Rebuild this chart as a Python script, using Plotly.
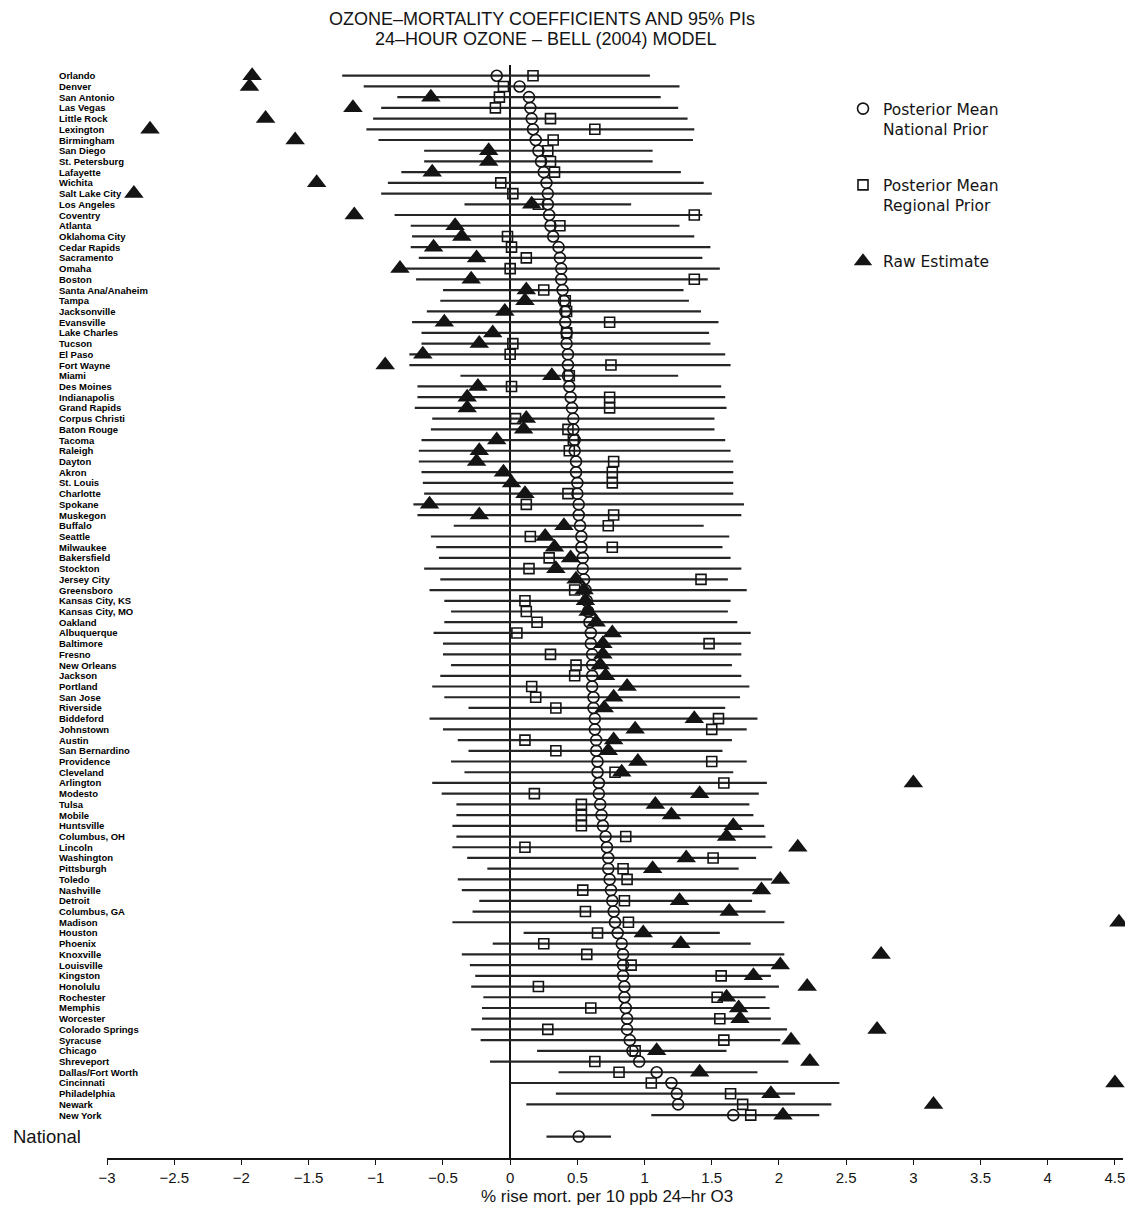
import plotly.graph_objects as go

cities = ["Orlando", "Denver", "San Antonio", "Las Vegas", "Little Rock", "Lexington", "Birmingham",
          "San Diego", "St. Petersburg", "Lafayette", "Wichita", "Salt Lake City", "Los Angeles",
          "Coventry", "Atlanta", "Oklahoma City", "Cedar Rapids", "Sacramento", "Omaha", "Boston",
          "Santa Ana/Anaheim", "Tampa", "Jacksonville", "Evansville", "Lake Charles", "Tucson",
          "El Paso", "Fort Wayne", "Miami", "Des Moines", "Indianapolis", "Grand Rapids",
          "Corpus Christi", "Baton Rouge", "Tacoma", "Raleigh", "Dayton", "Akron", "St. Louis",
          "Charlotte", "Spokane", "Muskegon", "Buffalo", "Seattle", "Milwaukee", "Bakersfield",
          "Stockton", "Jersey City", "Greensboro", "Kansas City, KS", "Kansas City, MO", "Oakland",
          "Albuquerque", "Baltimore", "Fresno", "New Orleans", "Jackson", "Portland", "San Jose",
          "Riverside", "Biddeford", "Johnstown", "Austin", "San Bernardino", "Providence",
          "Cleveland", "Arlington", "Modesto", "Tulsa", "Mobile", "Huntsville", "Columbus, OH",
          "Lincoln", "Washington", "Pittsburgh", "Toledo", "Nashville", "Detroit", "Columbus, GA",
          "Madison", "Houston", "Phoenix", "Knoxville", "Louisville", "Kingston", "Honolulu",
          "Rochester", "Memphis", "Worcester", "Colorado Springs", "Syracuse", "Chicago",
          "Shreveport", "Dallas/Fort Worth", "Cincinnati", "Philadelphia", "Newark", "New York"]

# 95% posterior interval (lower / upper)
pi_lower = [-1.25, -1.09, -0.84, -0.96, -1.02, -1.07, -0.98, -0.64, -0.64, -0.81,
            -0.91, -0.96, -0.34, -0.86, -0.74, -0.73, -0.74, -0.68, -0.78, -0.70,
            -0.50, -0.52, -0.62, -0.73, -0.66, -0.66, -0.75, -0.75, -0.37, -0.69,
            -0.69, -0.71, -0.58, -0.59, -0.66, -0.68, -0.68, -0.66, -0.65, -0.64,
            -0.72, -0.69, -0.42, -0.59, -0.55, -0.53, -0.64, -0.52, -0.60, -0.49,
            -0.44, -0.49, -0.57, -0.50, -0.50, -0.44, -0.52, -0.58, -0.49, -0.31,
            -0.60, -0.50, -0.39, -0.31, -0.44, -0.34, -0.58, -0.51, -0.40, -0.40,
            -0.43, -0.40, -0.43, -0.32, -0.17, -0.39, -0.36, -0.23, -0.28, -0.43,
            0.10, -0.13, -0.36, -0.30, -0.26, -0.29, -0.20, -0.21, -0.21, -0.29,
            -0.22, 0.20, -0.15, 0.36, 0.00, 0.34, 0.12, 1.05]
pi_upper = [1.04, 1.26, 1.12, 1.25, 1.32, 1.37, 1.36, 1.06, 1.06, 1.27,
            1.44, 1.50, 0.90, 1.43, 1.26, 1.37, 1.49, 1.43, 1.56, 1.47,
            1.29, 1.33, 1.42, 1.55, 1.48, 1.49, 1.60, 1.64, 1.25, 1.57,
            1.60, 1.61, 1.52, 1.52, 1.60, 1.64, 1.66, 1.66, 1.66, 1.66,
            1.74, 1.72, 1.44, 1.63, 1.58, 1.64, 1.72, 1.62, 1.76, 1.64,
            1.62, 1.69, 1.79, 1.72, 1.72, 1.65, 1.72, 1.78, 1.71, 1.60,
            1.84, 1.76, 1.65, 1.58, 1.76, 1.66, 1.91, 1.85, 1.78, 1.81,
            1.89, 1.90, 1.95, 1.83, 1.70, 1.95, 1.87, 1.80, 1.90, 2.04,
            1.56, 1.79, 2.04, 2.00, 1.94, 2.00, 1.90, 1.93, 1.94, 2.06,
            2.01, 1.61, 2.07, 1.84, 2.45, 2.12, 2.39, 2.30]

# posterior mean, national prior (circles)
post_national = [-0.10, 0.07, 0.14, 0.15, 0.16, 0.17, 0.19, 0.21, 0.23, 0.25,
                 0.27, 0.28, 0.28, 0.29, 0.30, 0.32, 0.36, 0.37, 0.38, 0.38,
                 0.39, 0.40, 0.41, 0.41, 0.42, 0.42, 0.43, 0.43, 0.43, 0.44,
                 0.45, 0.46, 0.47, 0.47, 0.48, 0.48, 0.49, 0.49, 0.50, 0.50,
                 0.51, 0.51, 0.52, 0.53, 0.53, 0.54, 0.54, 0.55, 0.56, 0.57,
                 0.58, 0.59, 0.60, 0.60, 0.61, 0.61, 0.61, 0.61, 0.62, 0.62,
                 0.63, 0.63, 0.64, 0.64, 0.65, 0.65, 0.66, 0.66, 0.67, 0.68,
                 0.69, 0.71, 0.72, 0.73, 0.73, 0.74, 0.75, 0.76, 0.77, 0.78,
                 0.80, 0.83, 0.84, 0.84, 0.84, 0.85, 0.85, 0.86, 0.87, 0.87,
                 0.89, 0.91, 0.96, 1.09, 1.20, 1.24, 1.25, 1.66]

# posterior mean, regional prior (squares)
post_regional = [0.17, -0.05, -0.08, -0.11, 0.30, 0.63, 0.32, 0.28, 0.30, 0.33,
                 -0.07, 0.02, 0.21, 1.37, 0.37, -0.02, 0.01, 0.12, 0.00, 1.37,
                 0.25, 0.41, 0.42, 0.74, 0.42, 0.02, 0.00, 0.75, 0.44, 0.01,
                 0.74, 0.74, 0.04, 0.43, 0.47, 0.44, 0.77, 0.76, 0.76, 0.43,
                 0.12, 0.77, 0.73, 0.15, 0.76, 0.29, 0.14, 1.42, 0.48, 0.11,
                 0.12, 0.20, 0.05, 1.48, 0.30, 0.49, 0.48, 0.16, 0.19, 0.34,
                 1.55, 1.50, 0.11, 0.34, 1.50, 0.78, 1.59, 0.18, 0.53, 0.53,
                 0.53, 0.86, 0.11, 1.51, 0.84, 0.87, 0.54, 0.85, 0.56, 0.88,
                 0.65, 0.25, 0.57, 0.90, 1.57, 0.21, 1.54, 0.60, 1.56, 0.28,
                 1.59, 0.93, 0.63, 0.81, 1.05, 1.64, 1.73, 1.79]

# raw city estimates (triangles)
raw_estimate = [-1.92, -1.94, -0.59, -1.17, -1.82, -2.68, -1.60, -0.16, -0.16, -0.58,
                -1.44, -2.80, 0.16, -1.16, -0.41, -0.36, -0.57, -0.25, -0.82, -0.29,
                0.12, 0.11, -0.04, -0.49, -0.13, -0.23, -0.65, -0.93, 0.31, -0.24,
                -0.32, -0.32, 0.12, 0.10, -0.10, -0.23, -0.25, -0.05, 0.01, 0.11,
                -0.60, -0.23, 0.40, 0.26, 0.33, 0.45, 0.34, 0.49, 0.55, 0.56,
                0.58, 0.64, 0.76, 0.69, 0.69, 0.67, 0.71, 0.87, 0.77, 0.70,
                1.37, 0.93, 0.77, 0.73, 0.95, 0.83, 3.00, 1.41, 1.08, 1.20,
                1.66, 1.61, 2.14, 1.31, 1.06, 2.01, 1.87, 1.26, 1.63, 4.53,
                0.99, 1.27, 2.76, 2.01, 1.81, 2.21, 1.61, 1.70, 1.71, 2.73,
                2.09, 1.09, 2.23, 1.41, 4.50, 1.94, 3.15, 2.03]

national_label = "National"
national_mean = 0.51
national_lower = 0.27
national_upper = 0.75

x_ticks = [-3, -2.5, -2, -1.5, -1, -0.5, 0, 0.5, 1, 1.5, 2, 2.5, 3, 3.5, 4, 4.5]
x_tick_text = ["\u22123", "\u22122.5", "\u22122", "\u22121.5", "\u22121", "\u22120.5", "0",
               "0.5", "1", "1.5", "2", "2.5", "3", "3.5", "4", "4.5"]

title_line1 = "OZONE\u2013MORTALITY COEFFICIENTS AND 95% PIs"
title_line2 = "24\u2013HOUR OZONE \u2013 BELL (2004) MODEL"
x_title = "% rise mort. per 10 ppb 24\u2013hr O3"

# ---------------------------------------------------------------
n = len(cities)
rows = list(range(1, n + 1))
nat_row = n + 2

seg_x, seg_y = [], []
for r, a, b in zip(rows, pi_lower, pi_upper):
    seg_x += [a, b, None]
    seg_y += [r, r, None]
seg_x += [national_lower, national_upper, None]
seg_y += [nat_row, nat_row, None]

INK = "#141414"
FONT = "Liberation Sans, Arial, sans-serif"

fig = go.Figure()
fig.add_trace(go.Scatter(x=seg_x, y=seg_y, mode="lines",
                         line=dict(color="#262626", width=2.2),
                         showlegend=False, hoverinfo="skip", cliponaxis=False))
fig.add_trace(go.Scatter(x=post_national + [national_mean], y=rows + [nat_row],
                         mode="markers", name="Posterior Mean<br>National Prior",
                         legendgroup="a",
                         marker=dict(symbol="circle-open", size=11, color=INK,
                                     line=dict(width=1.6, color=INK)),
                         cliponaxis=False))
fig.add_trace(go.Scatter(x=post_regional, y=rows, mode="markers",
                         name="Posterior Mean<br>Regional Prior", legendgroup="b",
                         marker=dict(symbol="square-open", size=10, color=INK,
                                     line=dict(width=1.6, color=INK)),
                         cliponaxis=False))
fig.add_trace(go.Scatter(x=raw_estimate, y=rows, mode="markers",
                         name="Raw Estimate", legendgroup="c",
                         marker=dict(symbol="triangle-up", size=17, color=INK,
                                     line=dict(width=0)),
                         cliponaxis=False))

# Reference-pixel layout (page body adds an 8px offset, compensated below)
OFF = 8
L_REF, T_REF, PLOT_RIGHT_REF, PLOT_BOTTOM_REF = 107, 65, 1123, 1158
W, H = 1133 - OFF, 1209 - OFF
L, T = L_REF - OFF, T_REF - OFF
R = W - (PLOT_RIGHT_REF - OFF)
B = H - (PLOT_BOTTOM_REF - OFF)
plot_w = PLOT_RIGHT_REF - L_REF
plot_h = PLOT_BOTTOM_REF - T_REF


def px_x(xr):
    return (xr - L_REF) / plot_w


def px_y(yr):
    return 1 - (yr - T_REF) / plot_h


annotations = []
for r, name in zip(rows, cities):
    annotations.append(dict(text="<b>" + name + "</b>", x=px_x(57), xref="paper", y=r,
                            yref="y", xanchor="left", yanchor="middle", showarrow=False,
                            font=dict(size=9.5, color="#000000", family=FONT)))
annotations.append(dict(text=national_label, x=px_x(11), xref="paper", y=nat_row,
                        yref="y", xanchor="left", yanchor="middle", showarrow=False,
                        font=dict(size=18.5, color=INK, family=FONT)))
annotations.append(dict(text=title_line1, x=px_x(542), xref="paper", y=px_y(19),
                        yref="paper", xanchor="center", yanchor="middle", showarrow=False,
                        font=dict(size=18, color=INK, family=FONT)))
annotations.append(dict(text=title_line2, x=px_x(545), xref="paper", y=px_y(38.5),
                        yref="paper", xanchor="center", yanchor="middle", showarrow=False,
                        font=dict(size=18, color=INK, family=FONT)))
annotations.append(dict(text=x_title, x=px_x(607), xref="paper", y=px_y(1196),
                        yref="paper", xanchor="center", yanchor="middle", showarrow=False,
                        font=dict(size=17, color=INK, family=FONT)))

fig.update_layout(
    width=W, height=H,
    margin=dict(l=L, r=R, t=T, b=B),
    paper_bgcolor="white", plot_bgcolor="white",
    font=dict(family=FONT, color=INK),
    annotations=annotations,
    showlegend=True,
    legend=dict(x=px_x(843), y=px_y(92), xanchor="left", yanchor="top",
                font=dict(size=15.5, color=INK, family="DejaVu Sans, Liberation Sans, sans-serif"),
                bgcolor="rgba(0,0,0,0)", traceorder="grouped", tracegroupgap=33,
                valign="top", itemwidth=30),
    xaxis=dict(range=[-3.0, 4.56], tickvals=x_ticks, ticktext=x_tick_text,
               showgrid=False, zeroline=True, zerolinecolor=INK, zerolinewidth=1.6,
               showline=True, linecolor=INK, linewidth=1.6, ticks="outside",
               ticklen=5, tickwidth=1.3, tickcolor=INK,
               tickfont=dict(size=15, color=INK, family=FONT), automargin=False),
    yaxis=dict(range=[102, 0], showgrid=False, zeroline=False, showline=False,
               showticklabels=False, ticks="", automargin=False),
)

fig.write_html("out.html")
